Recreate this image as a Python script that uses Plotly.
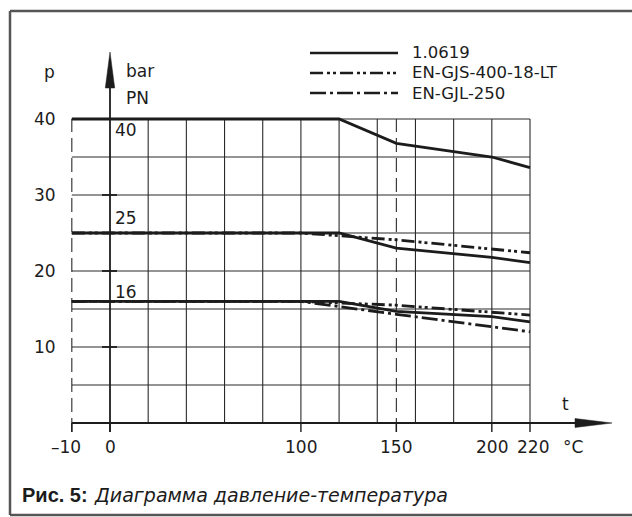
import plotly.graph_objects as go

# ---------------- data ----------------
temps_steel = [-10, 120, 150, 200, 220]
pn40_steel = [40, 40, 36.8, 35.0, 33.6]
pn25_steel = [25, 25, 23.0, 21.8, 21.1]
pn16_steel = [16, 16, 14.7, 14.0, 13.3]

temps_gjs = [-10, 100, 150, 200, 220]
pn25_gjs = [25, 25, 24.1, 22.9, 22.4]
pn16_gjs = [16, 16, 15.5, 14.6, 14.2]

temps_gjl = [-10, 100, 150, 200, 220]
pn16_gjl = [16, 16, 14.3, 12.7, 12.0]

x_tick_vals = [-10, 0, 100, 150, 200, 220]
x_tick_text = ["–10", "0", "100", "150", "200", "220"]
y_tick_vals = [10, 20, 30, 40]
y_grid_vals = [5, 10, 15, 20, 25, 30, 35, 40]
x_grid_vals = [20, 40, 60, 80, 100, 120, 140, 160, 180, 200, 220]
pn_levels = [40, 25, 16]
legend_names = ["1.0619", "EN-GJS-400-18-LT", "EN-GJL-250"]
caption_bold = "Рис. 5:"
caption_italic = "Диаграмма давление-температура"

# ---------------- geometry / styles ----------------
W, H = 632, 517
XS = 420 / 220          # px per °C
YS = 7.6                # px per bar
X0 = -110 / XS
X1 = X0 + W / XS
Y1 = 40 + 119 / YS
Y0 = Y1 - H / YS
INK = "#1c1c1c"
GRID = "#2a2a2a"
FONT = "DejaVu Sans"

DASH_GJS = "13px,4px,3px,3px,3px,4px"
DASH_GJL = "16px,4px,3px,4px"


def tx(t):
    """Broken temperature axis: the -10..0 segment occupies one 20° cell."""
    return t if t >= 0 else 2 * t


def px(x):
    return x / W


def py(y):
    return 1 - y / H


fig = go.Figure()

series = [
    (temps_steel, pn40_steel, "solid"),
    (temps_steel, pn25_steel, "solid"),
    (temps_steel, pn16_steel, "solid"),
    (temps_gjs, pn25_gjs, DASH_GJS),
    (temps_gjs, pn16_gjs, DASH_GJS),
    (temps_gjl, pn16_gjl, DASH_GJL),
]
for ts, ps, dash in series:
    fig.add_trace(go.Scatter(
        x=[tx(t) for t in ts], y=ps, mode="lines",
        line=dict(color=INK, width=2.8, dash=dash),
        showlegend=False, hoverinfo="skip"))

shapes = []
for p in y_grid_vals:
    shapes.append(dict(type="line", xref="x", yref="y", x0=tx(-10), x1=220, y0=p, y1=p,
                       line=dict(color=GRID, width=1.1), layer="below"))
for t in x_grid_vals:
    shapes.append(dict(type="line", xref="x", yref="y", x0=t, x1=t, y0=0, y1=40,
                       line=dict(color=GRID, width=1.1), layer="below"))
tick_len = 9 / YS
for t in (-10, 150):
    shapes.append(dict(type="line", xref="x", yref="y", x0=tx(t), x1=tx(t), y0=-tick_len, y1=40,
                       line=dict(color=GRID, width=1.1, dash="14px,6px"), layer="below"))
for t in x_tick_vals:
    shapes.append(dict(type="line", xref="x", yref="y", x0=tx(t), x1=tx(t), y0=-tick_len, y1=0,
                       line=dict(color=INK, width=1.4)))
for p in [30, 20, 10]:
    shapes.append(dict(type="line", xref="x", yref="y", x0=-8 / XS, x1=7 / XS, y0=p, y1=p,
                       line=dict(color=INK, width=1.8)))
shapes.append(dict(type="line", xref="x", yref="y", x0=0, x1=0, y0=-tick_len, y1=(423 - 88) / YS,
                   line=dict(color=INK, width=1.8)))
shapes.append(dict(type="path", xref="paper", yref="paper",
                   path=f"M{px(105.3)},{py(88)} L{px(110)},{py(52)} L{px(114.7)},{py(88)} Z",
                   fillcolor=INK, line=dict(color=INK, width=0.5)))
shapes.append(dict(type="line", xref="x", yref="y", x0=tx(-10), x1=(576 - 110) / XS, y0=0, y1=0,
                   line=dict(color=INK, width=2)))
shapes.append(dict(type="path", xref="paper", yref="paper",
                   path=f"M{px(575)},{py(418.5)} L{px(612)},{py(423)} L{px(575)},{py(427.5)} Z",
                   fillcolor=INK, line=dict(color=INK, width=0.5)))
frame = dict(color="#555555", width=2.5)
shapes.append(dict(type="line", xref="paper", yref="paper", x0=px(10), x1=px(10), y0=py(11), y1=py(515), line=frame))
shapes.append(dict(type="line", xref="paper", yref="paper", x0=px(10), x1=1, y0=py(11), y1=py(11), line=frame))
shapes.append(dict(type="line", xref="paper", yref="paper", x0=px(10), x1=1, y0=py(515), y1=py(515), line=frame))
legend_dashes = ["solid", DASH_GJS, DASH_GJL]
legend_y = [53, 73, 93]
for dash, yy in zip(legend_dashes, legend_y):
    shapes.append(dict(type="line", xref="paper", yref="paper", x0=px(310), x1=px(398), y0=py(yy), y1=py(yy),
                       line=dict(color=INK, width=2.5, dash=dash)))

ann = []
F = dict(family=FONT, size=17, color=INK)
for name, yy in zip(legend_names, legend_y):
    ann.append(dict(xref="paper", yref="paper", x=px(411), y=py(yy), text=name, showarrow=False,
                    xanchor="left", yanchor="middle", font=dict(family=FONT, size=16.5, color=INK),
                    borderpad=0))
for p in y_tick_vals:
    ann.append(dict(xref="paper", yref="y", x=px(58), y=p, text=str(p), showarrow=False,
                    xanchor="right", yanchor="middle", font=F))
pn_label_y = {40: 130, 25: 218, 16: 292}
for p in pn_levels:
    ann.append(dict(xref="paper", yref="paper", x=px(113), y=py(pn_label_y[p]), text=str(p), showarrow=False,
                    xanchor="left", yanchor="middle", font=F))
x_label_shift = {-10: -6, 220: 3}
for t, lab in zip(x_tick_vals, x_tick_text):
    ann.append(dict(xref="x", yref="paper", x=tx(t), y=py(447), text=lab, showarrow=False,
                    xanchor="center", yanchor="middle", xshift=x_label_shift.get(t, 0), font=F))
ann.append(dict(xref="paper", yref="paper", x=px(573), y=py(447), text="°C", showarrow=False,
                xanchor="center", yanchor="middle", font=F))
ann.append(dict(xref="paper", yref="paper", x=px(565), y=py(404), text="t", showarrow=False,
                xanchor="center", yanchor="middle", font=F))
ann.append(dict(xref="paper", yref="paper", x=px(49), y=py(72), text="p", showarrow=False,
                xanchor="center", yanchor="middle", font=F))
ann.append(dict(xref="paper", yref="paper", x=px(124), y=py(71), text="bar", showarrow=False,
                xanchor="left", yanchor="middle", font=F))
ann.append(dict(xref="paper", yref="paper", x=px(124), y=py(98), text="PN", showarrow=False,
                xanchor="left", yanchor="middle", font=F))
ann.append(dict(xref="paper", yref="paper", x=px(20), y=py(495),
                text=f"<b>{caption_bold}</b>", showarrow=False,
                xanchor="left", yanchor="middle",
                font=dict(family="Liberation Sans", size=20, color=INK)))
ann.append(dict(xref="paper", yref="paper", x=px(92), y=py(495),
                text=f"<i>{caption_italic}</i>", showarrow=False,
                xanchor="left", yanchor="middle",
                font=dict(family="DejaVu Sans", size=19, color=INK)))

fig.update_layout(
    width=W, height=H, margin=dict(l=0, r=0, t=0, b=0),
    paper_bgcolor="white", plot_bgcolor="white",
    xaxis=dict(range=[X0, X1], visible=False, fixedrange=True),
    yaxis=dict(range=[Y0, Y1], visible=False, fixedrange=True),
    shapes=shapes, annotations=ann, showlegend=False,
)

fig.write_html("out.html", config={"displayModeBar": False, "staticPlot": True},
               post_script="document.body.style.margin='0';document.body.style.overflow='hidden';")
